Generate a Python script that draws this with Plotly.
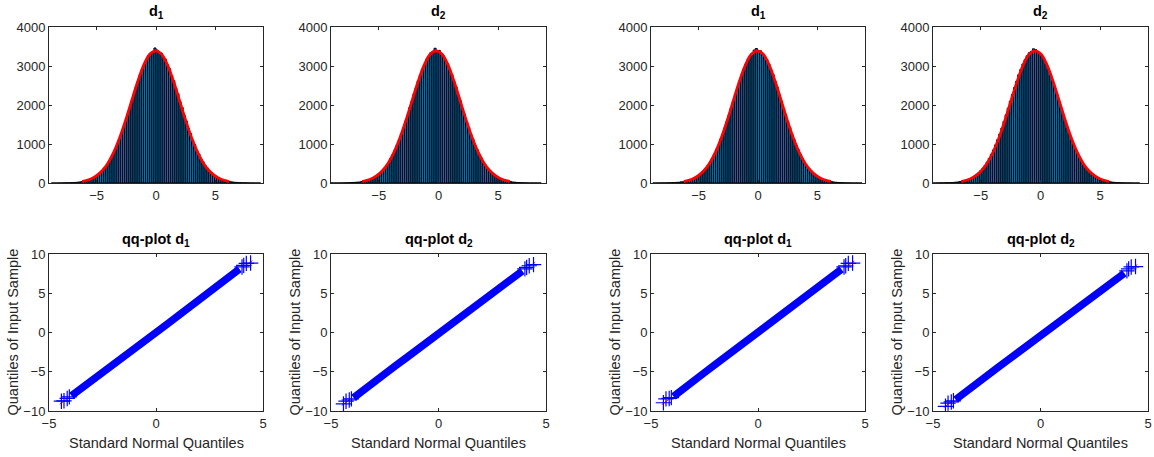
import plotly.graph_objects as go

W, H = 1154, 457

# ---------------- data ----------------
# histogram counts, 100 bins per panel (left to right)
counts_p1 = [0, 1, 0, 2, 1, 3, 4, 6, 5, 10, 12, 15, 19, 27, 33, 46, 55, 70, 93, 111,
             145, 172, 214, 266, 312, 384, 449, 540, 622, 738, 856, 968, 1120, 1248, 1427, 1569, 1760, 1911, 2109, 2268,
             2457, 2601, 2781, 2907, 3060, 3142, 3268, 3330, 3365, 3462,
             3410, 3348, 3331, 3229, 3176, 3030, 2930, 2752, 2625, 2430, 2290, 2081, 1935, 1733, 1590, 1402, 1270, 1099, 984, 838,
             740, 618, 544, 446, 386, 309, 268, 210, 178, 139, 117, 88, 74, 55, 46, 32, 27, 19, 16, 10,
             9, 5, 6, 3, 2, 1, 2, 0, 1, 0]
counts_p2 = [1, 0, 1, 1, 2, 2, 5, 4, 8, 9, 14, 16, 22, 25, 36, 43, 59, 74, 88, 117,
             139, 178, 210, 258, 322, 376, 458, 528, 634, 725, 851, 982, 1105, 1262, 1409, 1588, 1741, 1934, 2088, 2285,
             2437, 2620, 2759, 2925, 3038, 3171, 3240, 3341, 3380, 3455,
             3389, 3401, 3305, 3262, 3140, 3061, 2898, 2785, 2596, 2461, 2259, 2110, 1908, 1762, 1561, 1428, 1247, 1125, 961, 857,
             721, 640, 527, 461, 371, 323, 255, 221, 169, 146, 109, 94, 68, 60, 41, 36, 24, 21, 13, 12,
             7, 7, 4, 3, 1, 2, 0, 1, 0, 0]
counts_p3 = [0, 0, 1, 1, 3, 2, 4, 7, 7, 11, 10, 17, 18, 29, 31, 45, 58, 68, 95, 108,
             148, 169, 219, 262, 318, 377, 455, 533, 628, 731, 862, 961, 1128, 1241, 1420, 1582, 1752, 1925, 2101, 2280,
             2449, 2612, 2771, 2920, 3052, 3166, 3259, 3318, 3410, 3448,
             3372, 3390, 3318, 3240, 3169, 3051, 2901, 2779, 2603, 2455, 2266, 2105, 1911, 1755, 1570, 1421, 1252, 1118, 969, 855,
             728, 633, 530, 457, 377, 320, 258, 218, 172, 145, 112, 90, 75, 56, 43, 35, 25, 20, 14, 11,
             8, 6, 4, 4, 2, 1, 1, 1, 0, 0]
counts_p4 = [1, 1, 0, 2, 2, 4, 3, 6, 9, 8, 13, 14, 21, 26, 35, 42, 57, 73, 90, 114,
             142, 174, 212, 260, 318, 381, 452, 537, 629, 736, 848, 977, 1114, 1255, 1410, 1580, 1749, 1920, 2100, 2272,
             2450, 2608, 2775, 2912, 3049, 3160, 3262, 3339, 3376, 3441,
             3420, 3365, 3330, 3245, 3168, 3039, 2920, 2760, 2618, 2440, 2281, 2092, 1930, 1741, 1582, 1410, 1265, 1105, 978, 845,
             737, 625, 540, 450, 383, 314, 265, 212, 177, 140, 116, 89, 73, 58, 45, 33, 27, 19, 15, 11,
             9, 6, 5, 2, 2, 2, 1, 0, 0, 1]
hist_counts = [counts_p1, counts_p2, counts_p3, counts_p4]
bin_width = 0.176
bin_starts = [-8.8, -9.0, -8.85, -9.3]

# fitted normal curve: offsets from the fitted mean and heights
fit_means = [-0.03, -0.2, -0.06, -0.45]
fit_offsets = [-6.18, -5.5, -5.0, -4.5, -4.0, -3.5, -3.0, -2.5, -2.0, -1.5, -1.0, -0.5, 0.0,
               0.5, 1.0, 1.5, 2.0, 2.5, 3.0, 3.5, 4.0, 4.5, 5.0, 5.5, 6.18]
fit_heights = [38, 96, 179, 313, 516, 803, 1177, 1628, 2122, 2608, 3022, 3301, 3390,
               3301, 3022, 2608, 2122, 1628, 1177, 803, 516, 313, 179, 96, 38]

# qq-plot data
qq_theory = [-3.95, -3.5, -3.0, -2.5, -2.0, -1.5, -1.0, -0.5, 0.0, 0.5, 1.0, 1.5, 2.0, 2.5, 3.0, 3.5, 3.9]
qq_samples = [
    [-8.05, -7.10, -6.09, -5.08, -4.06, -3.05, -2.03, -1.02, 0.0, 1.01, 2.03, 3.05, 4.07, 5.08, 6.10, 7.12, 8.1],
    [-8.3, -7.30, -6.28, -5.26, -4.24, -3.23, -2.21, -1.19, -0.18, 0.84, 1.85, 2.87, 3.88, 4.90, 5.91, 6.93, 7.85],
    [-8.15, -7.14, -6.12, -5.11, -4.09, -3.08, -2.06, -1.05, -0.03, 0.98, 2.0, 3.02, 4.03, 5.05, 6.07, 7.09, 8.05],
    [-8.55, -7.55, -6.52, -5.50, -4.49, -3.48, -2.47, -1.46, -0.45, 0.56, 1.57, 2.58, 3.59, 4.60, 5.61, 6.62, 7.55],
]
qq_tail_x = [-4.42, -4.3, -4.15, -4.05, 4.02, 4.1, 4.22, 4.42]
qq_tail_y = [
    [-8.75, -8.7, -8.4, -8.2, 8.35, 8.55, 8.8, 8.85],
    [-9.1, -8.75, -8.6, -8.45, 8.1, 8.3, 8.5, 8.65],
    [-8.95, -8.45, -8.4, -8.3, 8.35, 8.5, 8.8, 8.85],
    [-9.4, -9.0, -8.85, -8.7, 7.85, 8.1, 8.35, 8.4],
]
qq_ref_x = [-4.5, 4.5]
qq_ref_y = [[-9.15, 9.15], [-9.3, 8.95], [-9.2, 9.1], [-9.55, 8.65]]

hist_titles = ["<b>d<sub>1</sub></b>", "<b>d<sub>2</sub></b>", "<b>d<sub>1</sub></b>", "<b>d<sub>2</sub></b>"]
qq_titles = ["<b>qq-plot d<sub>1</sub></b>", "<b>qq-plot d<sub>2</sub></b>",
             "<b>qq-plot d<sub>1</sub></b>", "<b>qq-plot d<sub>2</sub></b>"]
hist_xticks = [-5, 0, 5]
hist_yticks = [0, 1000, 2000, 3000, 4000]
qq_xticks = [-5, 0, 5]
qq_yticks = [-10, -5, 0, 5, 10]
qq_xlabel = "Standard Normal Quantiles"
qq_ylabel = "Quantiles of Input Sample"

# ---------------- layout geometry (pixels in the window) ----------------
cols_px = [(49, 263), (331, 546), (651, 865), (933, 1148)]
hist_row_px = (27, 183)
qq_row_px = (254, 411)

FONT = "Liberation Sans, Arial, sans-serif"
AX = "#262626"


def px_x(v):
    return v / W


def px_y(v):
    return 1 - v / H


def xdom(c):
    return [px_x(c[0]), px_x(c[1])]


def ydom(r):
    return [px_y(r[1]), px_y(r[0])]


fig = go.Figure()
layout = dict(
    template="none",
    width=W, height=H, margin=dict(l=0, r=0, t=0, b=0, pad=0, autoexpand=False),
    paper_bgcolor="white", plot_bgcolor="white", showlegend=False,
    bargap=0, font=dict(family=FONT, size=13, color=AX),
)
annotations = []

axis_common = dict(showgrid=False, zeroline=False, showline=True, linecolor=AX, linewidth=1,
                   mirror="ticks", ticks="inside", ticklen=3, tickcolor=AX, tickwidth=1,
                   automargin=False,
                   tickfont=dict(family=FONT, size=13, color=AX))

for p in range(4):
    hx = p + 1
    qx = p + 5
    # histogram
    fig.add_trace(go.Bar(
        x0=bin_starts[p] + bin_width / 2, dx=bin_width, y=hist_counts[p], width=bin_width,
        marker=dict(color="#0072BD", line=dict(color="black", width=1.0)),
        xaxis=f"x{hx}", yaxis=f"y{hx}", hoverinfo="skip"))
    fig.add_trace(go.Scatter(
        x=[fit_means[p] + o for o in fit_offsets], y=fit_heights, mode="lines",
        line=dict(color="#FF0000", width=2.8, shape="spline"),
        xaxis=f"x{hx}", yaxis=f"y{hx}", hoverinfo="skip"))
    layout[f"xaxis{hx}"] = dict(axis_common, domain=xdom(cols_px[p]), anchor=f"y{hx}",
                                range=[-9, 9], tickvals=hist_xticks)
    layout[f"yaxis{hx}"] = dict(axis_common, domain=ydom(hist_row_px), anchor=f"x{hx}",
                                range=[0, 4000], tickvals=hist_yticks)

    # qq-plot
    fig.add_trace(go.Scatter(
        x=qq_ref_x, y=qq_ref_y[p], mode="lines",
        line=dict(color="#FF0000", width=1, dash="dash"),
        xaxis=f"x{qx}", yaxis=f"y{qx}", hoverinfo="skip"))
    fig.add_trace(go.Scatter(
        x=qq_theory, y=qq_samples[p], mode="lines",
        line=dict(color="#0000FF", width=7.5),
        xaxis=f"x{qx}", yaxis=f"y{qx}", hoverinfo="skip"))
    fig.add_trace(go.Scatter(
        x=qq_tail_x, y=qq_tail_y[p], mode="markers",
        marker=dict(symbol="cross-thin-open", size=11, color="#0000FF",
                    line=dict(color="#0000FF", width=1.2)),
        xaxis=f"x{qx}", yaxis=f"y{qx}", hoverinfo="skip"))
    layout[f"xaxis{qx}"] = dict(axis_common, domain=xdom(cols_px[p]), anchor=f"y{qx}",
                                range=[-5, 5], tickvals=qq_xticks)
    layout[f"yaxis{qx}"] = dict(axis_common, domain=ydom(qq_row_px), anchor=f"x{qx}",
                                range=[-10, 10], tickvals=qq_yticks)

    cx = px_x((cols_px[p][0] + cols_px[p][1]) / 2)
    annotations.append(dict(text=hist_titles[p], x=cx, y=px_y(23), xref="paper", yref="paper",
                            xanchor="center", yanchor="bottom", showarrow=False,
                            font=dict(family=FONT, size=14.5, color="black")))
    annotations.append(dict(text=qq_titles[p], x=cx, y=px_y(251), xref="paper", yref="paper",
                            xanchor="center", yanchor="bottom", showarrow=False,
                            font=dict(family=FONT, size=14.5, color="black")))
    annotations.append(dict(text=qq_xlabel, x=cx, y=px_y(443), xref="paper", yref="paper",
                            xanchor="center", yanchor="middle", showarrow=False,
                            font=dict(family=FONT, size=14.5, color=AX)))
    annotations.append(dict(text=qq_ylabel, x=px_x(cols_px[p][0] - 37),
                            y=px_y((qq_row_px[0] + qq_row_px[1]) / 2),
                            xref="paper", yref="paper", xanchor="center", yanchor="middle",
                            textangle=-90, showarrow=False,
                            font=dict(family=FONT, size=14.5, color=AX)))

layout["annotations"] = annotations
fig.update_layout(**layout)
# remove the browser's default 8 px body margin so the figure fills the window exactly
fig.write_html("out.html",
               config={"displayModeBar": False, "staticPlot": True},
               post_script="document.body.style.margin='0';document.body.style.overflow='hidden';")
